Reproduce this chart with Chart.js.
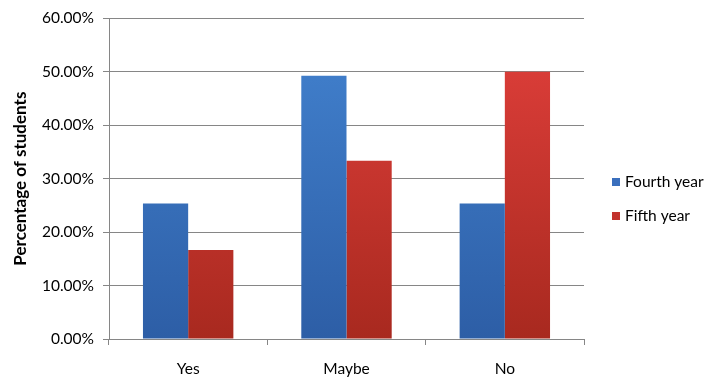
<!DOCTYPE html>
<html>
<head>
<meta charset="utf-8">
<script src="https://cdn.jsdelivr.net/npm/chart.js@4"></script>
<style>
  html, body { margin: 0; padding: 0; background: #fff; }
  #wrap { position: relative; width: 713px; height: 392px; }
</style>
</head>
<body>
<div id="wrap"><canvas id="chart" width="713" height="392"></canvas></div>
<script>
// ── Data ────────────────────────────────────────────────────────────────────
const categories  = ["Yes", "Maybe", "No"];
const fourthYear  = [0.2537, 0.4925, 0.2537];
const fifthYear   = [0.1667, 0.3333, 0.5000];
const seriesNames = ["Fourth year", "Fifth year"];

const FONT = "Lato, 'Open Sans', sans-serif";
const GRID = "#868686";

// vertical gradient per bar colour (lighter at top, darker at bottom)
function barFill(top, bottom) {
  return (ctx) => {
    const area = ctx.chart.chartArea;
    if (!area) return top;
    const g = ctx.chart.ctx.createLinearGradient(0, area.top, 0, area.bottom);
    g.addColorStop(0, top);
    g.addColorStop(1, bottom);
    return g;
  };
}

// ── Legend drawn at a fixed spot on the right, like Excel ───────────────────
const sideLegend = {
  id: "sideLegend",
  afterDraw(chart) {
    const c = chart.ctx;
    const rows = [{ y: 182, color: "#3a6fbd" }, { y: 216, color: "#c2332d" }];
    c.save();
    c.font = "15.5px " + FONT;
    c.textBaseline = "middle";
    chart.data.datasets.forEach((ds, i) => {
      c.fillStyle = rows[i].color;
      c.fillRect(612, rows[i].y - 4, 8, 8);
      c.fillStyle = "#000";
      c.fillText(ds.label, 625, rows[i].y);
    });
    c.restore();
  },
};

new Chart(document.getElementById("chart"), {
  type: "bar",
  data: {
    labels: categories,
    datasets: [
      { label: seriesNames[0], data: fourthYear, backgroundColor: barFill("#4383d0", "#2d5ea6") },
      { label: seriesNames[1], data: fifthYear,  backgroundColor: barFill("#e2403c", "#a8291f") },
    ],
  },
  options: {
    responsive: false,
    animation: false,
    layout: { padding: { left: 0, right: 129, top: 17, bottom: 0 } },
    datasets: { bar: { categoryPercentage: 0.571, barPercentage: 1.0 } },
    scales: {
      x: {
        afterFit: (s) => { s.height = 53; },
        grid: { drawOnChartArea: false, drawTicks: true, tickLength: 6, color: GRID, offset: true },
        border: { color: GRID },
        ticks: { color: "#000", font: { family: FONT, size: 15.5 }, padding: 15 },
      },
      y: {
        min: 0,
        max: 0.6,
        afterFit: (s) => { s.width = 109; },
        ticks: {
          stepSize: 0.1,
          color: "#000",
          font: { family: FONT, size: 15.5 },
          padding: 9,
          callback: (v) => (v * 100).toFixed(2) + "%",
        },
        grid: { color: GRID, tickLength: 6 },
        border: { color: GRID },
        title: {
          display: true,
          text: "Percentage of students",
          color: "#000",
          font: { family: FONT, size: 17, weight: "bold" },
          padding: { top: 10, bottom: 0 },
        },
      },
    },
    plugins: { legend: { display: false }, tooltip: { enabled: false } },
  },
  plugins: [sideLegend],
});
</script>
</body>
</html>
